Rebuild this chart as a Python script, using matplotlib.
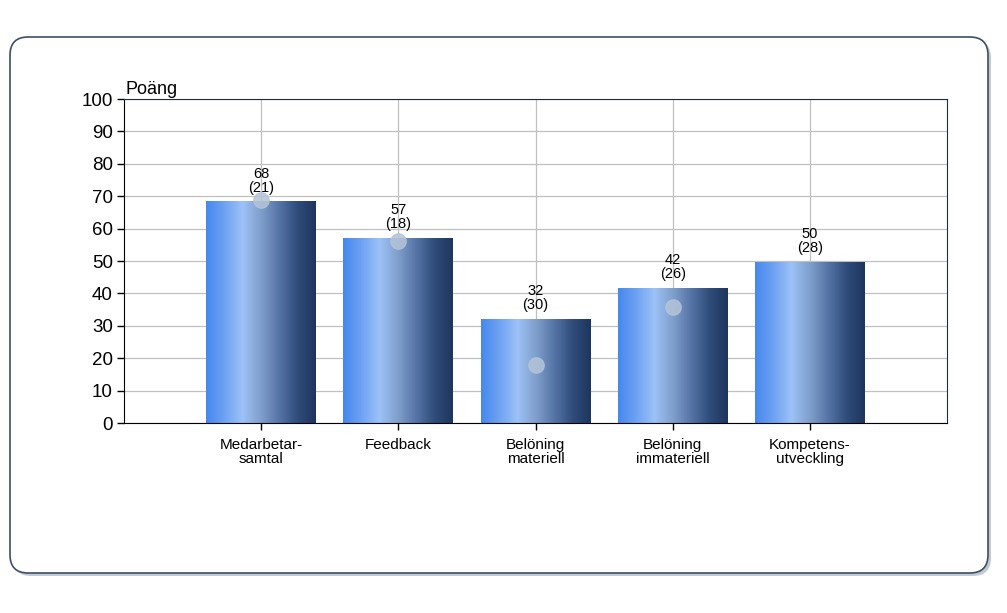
import numpy as np
import matplotlib.pyplot as plt
from matplotlib.patches import FancyBboxPatch, Rectangle
from matplotlib.colors import LinearSegmentedColormap

categories = ['Medarbetar-\nsamtal', 'Feedback', 'Belöning\nmateriell',
              'Belöning\nimmateriell', 'Kompetens-\nutveckling']
scores = [68.5, 57.2, 32.2, 41.8, 49.8]
score_labels = ['68', '57', '32', '42', '50']
counts = ['21', '18', '30', '26', '28']
markers = [68.8, 56.2, 17.9, 35.8, np.nan]

plt.rcParams['font.family'] = ['Liberation Sans', 'DejaVu Sans']

fig = plt.figure(figsize=(10.07, 6.13), dpi=100)

# rounded frame with shadow
shadow = FancyBboxPatch((13 / 1007, 1 - 576 / 613), 978 / 1007, 536 / 613,
                        boxstyle='round,pad=0,rounding_size=0.018',
                        transform=fig.transFigure, facecolor='#c4c9d0',
                        edgecolor='none', zorder=0, mutation_aspect=1007 / 613)
frame = FancyBboxPatch((10 / 1007, 1 - 573 / 613), 978 / 1007, 536 / 613,
                       boxstyle='round,pad=0,rounding_size=0.018',
                       transform=fig.transFigure, facecolor='white',
                       edgecolor='#3d4f66', linewidth=1.2, zorder=1,
                       mutation_aspect=1007 / 613)
fig.patches.extend([shadow, frame])

ax = fig.add_axes([124 / 1007, 1 - 423 / 613, 823 / 1007, 324 / 613])
ax.set_facecolor('none')
ax.set_zorder(2)

x = np.arange(len(categories))

grad = LinearSegmentedColormap.from_list(
    'bar', ['#4588ee', '#6ea2f2', '#9dc2f7', '#7f9fcc', '#5574a6', '#2f4c7a', '#1d365f'])
gimg = np.linspace(0, 1, 256).reshape(1, -1)
width = 0.8
for xi, h in zip(x, scores):
    im = ax.imshow(gimg, cmap=grad, aspect='auto', interpolation='bilinear',
                   extent=(xi - width / 2, xi + width / 2, 0, h), zorder=2)
    rect = Rectangle((xi - width / 2, 0), width, h, transform=ax.transData)
    im.set_clip_path(rect)
ax.set_xlim(-1, 5)
ax.set_ylim(0, 100)

ax.plot(x, markers, linestyle='none', marker='o', markersize=11,
        color='#b4c4d8', alpha=0.85, zorder=3)

for xi, h, s, c in zip(x, scores, score_labels, counts):
    ax.text(xi, h + 2, f'{s}\n({c})', ha='center', va='bottom',
            fontsize=10.5, linespacing=1.0, zorder=4)

ax.set_yticks(range(0, 101, 10))
ax.set_xticks(x)
ax.set_xticklabels(categories, fontsize=11, linespacing=1.0)
ax.tick_params(axis='y', labelsize=13.5, length=5, width=1, pad=3)
ax.tick_params(axis='x', length=5, width=1, pad=6)
ax.grid(True, color='#c0c0c0', linewidth=0.9, zorder=0)
ax.set_axisbelow(True)
for side in ['top', 'right']:
    ax.spines[side].set_color('#1c2e3f')
ax.spines['left'].set_color('black')
ax.spines['bottom'].set_color('black')

ax.text(0.002, 1.003, 'Poäng', transform=ax.transAxes, fontsize=13,
        ha='left', va='bottom')

fig.savefig('out.png', dpi=100)
